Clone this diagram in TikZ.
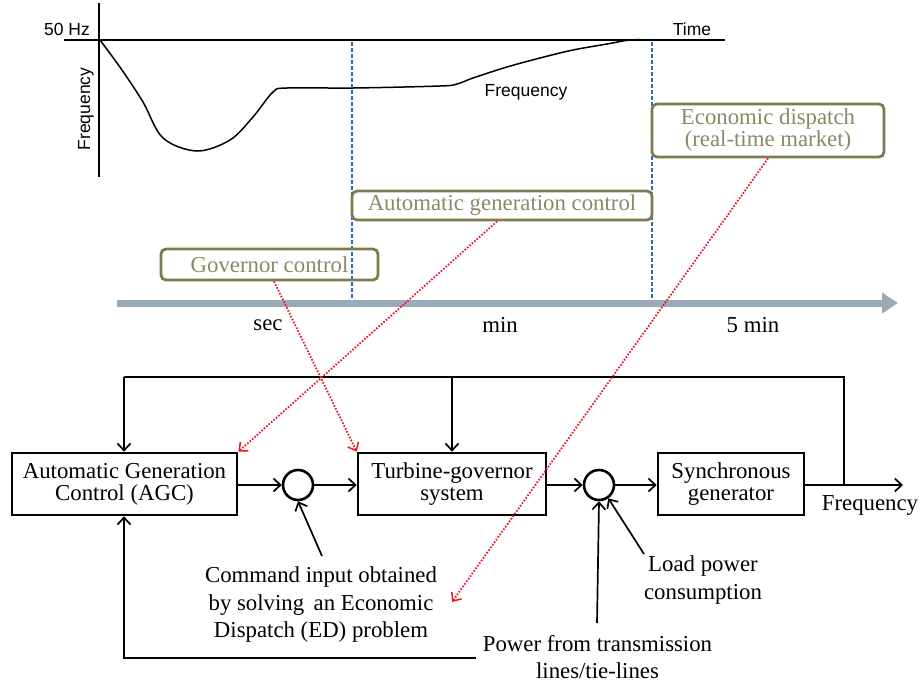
\documentclass[tikz,border=0pt]{standalone}
\usepackage{fontspec}
\setmainfont{Liberation Serif}
\newfontfamily\chartfont{Liberation Sans}
\usetikzlibrary{arrows.meta}

\definecolor{olivebd}{RGB}{125,122,80}
\definecolor{olivetx}{RGB}{138,136,104}
\definecolor{stageblue}{RGB}{40,110,175}
\definecolor{axisgray}{RGB}{155,170,185}
\definecolor{linkred}{RGB}{235,20,40}

\tikzset{
  chartlbl/.style={font=\chartfont\fontsize{17.5}{20}\selectfont, inner sep=0pt},
  serif/.style={font=\fontsize{22.8}{27.5}\selectfont, inner sep=0pt, align=center},
  blockbox/.style={draw, line width=2.6pt, font=\fontsize{22.8}{22}\selectfont, align=center, inner sep=0pt, minimum height=62pt},
  sumnode/.style={draw, circle, line width=2.6pt, minimum size=30pt, inner sep=0pt},
  stagebox/.style={draw=olivebd, line width=2.8pt, rounded corners=5pt, text=olivetx,
    font=\fontsize{22.8}{22}\selectfont, align=center, inner sep=0pt},
  sig/.style={line width=1.7pt, -{Straight Barb[length=7pt,width=13pt,line width=1.7pt]}},
  wire/.style={line width=1.7pt},
  mapto/.style={draw=linkred, line width=1.8pt, dash pattern=on 1.6pt off 1.6pt,
    -{Straight Barb[length=7pt,width=12pt,line width=1.5pt,sep=0pt]}},
  stageline/.style={draw=stageblue, line width=1.2pt, dash pattern=on 4pt off 2pt},
}

\begin{document}
\begin{tikzpicture}[x=1pt,y=-1pt]
\useasboundingbox (0,0) rectangle (923,683);

% ---------- frequency response chart ----------
\draw[line width=1.2pt] (99,3) -- (99,177);
\draw[line width=1.2pt] (64,40) -- (725,40);
\node[chartlbl] (hz) at (67,29) {50 Hz};
\node[chartlbl] (time) at (692,29) {Time};
\node[chartlbl, rotate=90] (faxis) at (86,109) {Frequency};
\node[chartlbl] (fcurve) at (526,92) {Frequency};
\draw[line width=1.5pt] plot[smooth, tension=0.55] coordinates {
  (100,40) (122,70) (143,102) (163,138) (197,151) (230,140) (253,117)
  (273,92) (287,88) (353,88) (440,86) (457,84) (473,78) (507,67)
  (540,58) (573,50) (607,44) (630,40) (650,40)};

% stage boundaries
\draw[stageline] (352,42) -- (352,305);
\draw[stageline] (652,42) -- (652,305);

% time scale
\draw[axisgray, line width=7pt, -{Triangle[length=16pt,width=20pt]}] (117,303) -- (898,303);
\node[serif] (sec) at (268,325) {sec};
\node[serif] (min) at (500,325) {min};
\node[serif] (fivemin) at (753,325) {5 min};

% control layers
\node[stagebox, minimum width=217pt, minimum height=31pt] (gov) at (269.5,264.5) {Governor control};
\node[stagebox, minimum width=300pt, minimum height=29pt] (agcs) at (502,205.5) {Automatic generation control};
\node[stagebox, minimum width=232pt, minimum height=53pt] (ed) at (768,130.5) {Economic dispatch\\(real-time market)};

% ---------- block diagram ----------
\node[blockbox, minimum width=225pt] (agc) at (124.5,484) {Automatic Generation\\Control (AGC)};
\node[sumnode] (s1) at (298,485) {};
\node[blockbox, minimum width=188pt] (tg) at (452,484) {Turbine-governor\\system};
\node[sumnode] (s2) at (599,485) {};
\node[blockbox, minimum width=146pt] (sg) at (731,484) {Synchronous\\generator};

\coordinate (out) at (903,485);
\coordinate (tap) at (844,485);
\coordinate (topR) at (844,377);
\coordinate (topM) at (452,377);
\coordinate (topL) at (124,377);
\coordinate (botR) at (476,658);
\coordinate (botL) at (124,658);

\draw[sig] (agc.east |- s1) -- (s1.west);
\draw[sig] (s1.east) -- (tg.west |- s1);
\draw[sig] (tg.east |- s2) -- (s2.west);
\draw[sig] (s2.east) -- (sg.west |- s2);
\draw[sig] (sg.east |- s2) -- (out);
\node[serif] (fout) at (870,505) {Frequency};

\draw[wire] (tap) -- (topR) -- (topL);
\draw[sig] (topL) -- (agc.north -| topL);
\draw[sig] (topM) -- (tg.north);
\draw[sig] (botR) -- (botL) -- (agc.south -| botL);

% external inputs
\node[serif] (cmd) at (321,605) {Command input obtained\\by solving\, an Economic\\Dispatch (ED) problem};
\node[serif] (load) at (703,580) {Load power\\consumption};
\node[serif] (tie) at (597.5,657) {Power from transmission\\lines/tie-lines};
\coordinate (cmdtip) at (322,556);
\coordinate (loadtip) at (644,554);
\coordinate (tietip) at (597,623);
\draw[sig] (cmdtip) -- (s1.south);
\draw[sig] (tietip) -- (s2.south);
\draw[sig] (loadtip) -- (s2.-55);

% layer-to-block links
\draw[mapto] (gov.south -| 274,0) -- (tg.north west);
\draw[mapto] (agcs.south -| 497,0) -- (agc.north east);
\coordinate (edtgt) at (452,602);
\draw[mapto] (ed.south -| 768,0) -- (edtgt);
\end{tikzpicture}
\end{document}
